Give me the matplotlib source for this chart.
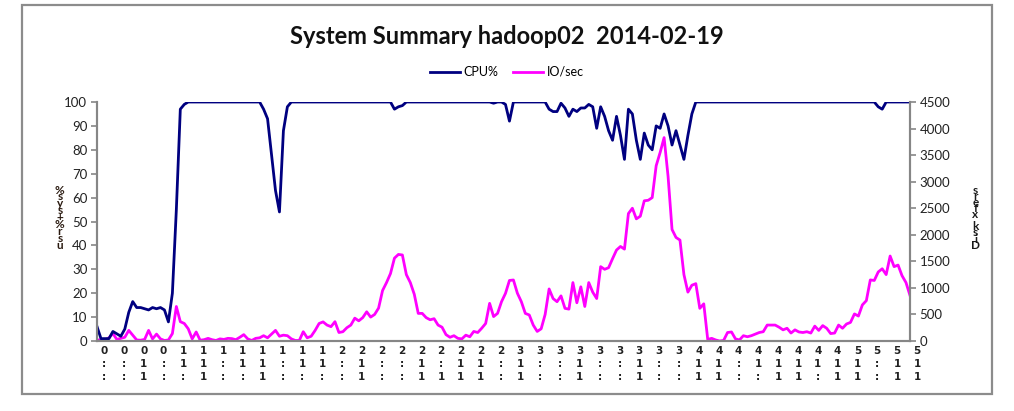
import matplotlib
matplotlib.use("Agg")
import matplotlib.pyplot as plt
import matplotlib.transforms as mtransforms
from matplotlib.patches import Rectangle

plt.rcParams['font.family'] = ['Lato', 'DejaVu Sans']

# CPU% (usr+sys), one value per sample
cpu = [6, 1, 1, 1, 4, 3, 2, 5, 12, 16.5,
       14, 14, 13.5, 13, 14, 13.5, 14, 13, 8, 20,
       55, 97, 99, 100, 100, 100, 100, 100, 100, 100,
       100, 100, 100, 100, 100, 100, 100, 100, 100, 100,
       100, 100, 97, 93, 78, 63, 54, 88, 98, 100,
       100, 100, 100, 100, 100, 100, 100, 100, 100, 100,
       100, 100, 100, 100, 100, 100, 100, 100, 100, 100,
       100, 100, 100, 100, 100, 97, 98, 98.5, 100, 100,
       100, 100, 100, 100, 100, 100, 100, 100, 100, 100,
       100, 100, 100, 100, 100, 100, 100, 100, 100, 100,
       99.5, 100, 100, 99, 92, 100, 100, 100, 100, 100,
       100, 100, 100, 100, 97, 96, 96, 99.5, 97.5, 94,
       97, 96, 97.5, 97.5, 99, 98, 89, 98, 94, 88,
       84, 94, 86, 76, 97, 95, 84, 76, 87, 82,
       80, 90, 89, 95, 90, 82, 88, 82, 76, 86,
       95, 100, 100, 100, 100, 100, 100, 100, 100, 100,
       100, 100, 100, 100, 100, 100, 100, 100, 100, 100,
       100, 100, 100, 100, 100, 100, 100, 100, 100, 100,
       100, 100, 100, 100, 100, 100, 100, 100, 100, 100,
       100, 100, 100, 100, 100, 100, 100, 98, 97, 100,
       100, 100, 100, 100, 100, 100]

# Disk transfers per second
io = [20, 20, 20, 60, 140, 30, 50, 70, 200, 110,
      20, 15, 30, 200, 40, 130, 40, 10, 20, 140,
      650, 364, 330, 230, 40, 170, 15, 25, 50, 25,
      10, 40, 30, 50, 45, 25, 70, 120, 40, 10,
      50, 60, 100, 60, 130, 200, 90, 110, 100, 40,
      10, 10, 175, 60, 90, 200, 330, 360, 300, 270,
      364, 160, 175, 250, 300, 430, 380, 440, 550, 450,
      500, 620, 950, 1100, 1270, 1560, 1630, 1620, 1250, 1100,
      880, 520, 520, 440, 400, 420, 300, 260, 120, 70,
      100, 50, 40, 110, 80, 180, 160, 240, 330, 709,
      460, 520, 740, 897, 1140, 1149, 900, 740, 520, 490,
      300, 180, 230, 500, 980, 800, 740, 850, 615, 600,
      1100, 720, 1020, 650, 1100, 920, 800, 1400, 1350, 1380,
      1550, 1713, 1780, 1730, 2400, 2500, 2300, 2350, 2640, 2650,
      2700, 3300, 3550, 3830, 3100, 2100, 1950, 1900, 1250, 920,
      1050, 1080, 615, 700, 30, 50, 20, 0, 10, 160,
      170, 40, 20, 100, 80, 100, 130, 160, 175, 300,
      300, 300, 260, 210, 240, 150, 210, 170, 160, 175,
      150, 280, 200, 290, 240, 140, 150, 300, 240, 320,
      350, 510, 470, 680, 760, 1150, 1140, 1300, 1360, 1250,
      1600, 1400, 1430, 1230, 1100, 860]

# category labels as they show (clipped, stacked), one every 5 samples
tick_labels = ["0\n:\n:", "0\n:\n:", "0\n1\n1", "0\n:\n:",
               "1\n1\n:", "1\n1\n1", "1\n:\n:", "1\n1\n:", "1\n1\n1", "1\n:\n:", "1\n1\n:", "1\n1\n:",
               "2\n:\n:", "2\n1\n1", "2\n:\n:", "2\n:\n:", "2\n1\n1", "2\n:\n1", "2\n1\n1", "2\n1\n1", "2\n:\n:",
               "3\n1\n1", "3\n:\n:", "3\n:\n:", "3\n1\n1", "3\n:\n:", "3\n:\n:", "3\n1\n1", "3\n:\n:", "3\n:\n:",
               "4\n1\n1", "4\n1\n1", "4\n:\n:", "4\n1\n:", "4\n1\n1", "4\n1\n1", "4\n1\n:", "4\n1\n1",
               "5\n1\n1", "5\n:\n:", "5\n1\n1", "5\n1\n1"]
label_step = 5

title = "System Summary hadoop02  2014-02-19"

axis_gray = '#868686'
text_color = '#222222'

fig = plt.figure(figsize=(10.14, 4.11), dpi=100, facecolor='white')
fig.patches.append(Rectangle((0.0217, 0.041), 0.957, 0.947, transform=fig.transFigure,
                             fill=False, edgecolor='#8c8c8c', linewidth=1.6))

ax = fig.add_axes([0.0957, 0.1703, 0.8017, 0.5815])
ax2 = ax.twinx()

x = list(range(len(cpu)))
l1, = ax.plot(x, cpu, color='#000080', linewidth=2.0, label='CPU%')
l2, = ax2.plot(x, io, color='#FF00FF', linewidth=2.0, label='IO/sec')
ax.set_zorder(ax2.get_zorder() + 1)
ax.patch.set_visible(False)

ax.set_xlim(0, len(cpu) - 1)
ax.set_ylim(0, 100)
ax2.set_ylim(0, 4500)
ax.set_yticks(range(0, 101, 10))
ax2.set_yticks(range(0, 4501, 500))
ax.set_xticks([])

for a in (ax, ax2):
    for pos, sp in a.spines.items():
        sp.set_color(axis_gray)
        sp.set_linewidth(1.5)
    a.spines['top'].set_visible(False)
    a.tick_params(axis='y', colors=axis_gray, labelcolor=text_color,
                  labelsize=9.5, length=4, width=1.2, pad=3)

# stacked category labels below the axis
trans = mtransforms.offset_copy(ax.get_xaxis_transform(), fig=fig, x=7, y=-5, units='dots')
for k, lab in enumerate(tick_labels):
    ax.text(k * label_step, 0, lab, transform=trans, ha='center', va='top',
            fontsize=7.5, fontweight='bold', color=text_color, linespacing=1.35,
            family=['Liberation Sans Narrow', 'DejaVu Sans'], clip_on=False)

# compressed axis titles
fig.text(0.059, 0.47, "\n".join(reversed("usr%+sys%")), ha='center', va='center',
         fontsize=8.5, fontweight='bold', color='#2a1a10', linespacing=0.55)
fig.text(0.962, 0.47, "\n".join(reversed("Disk xfers")), ha='center', va='center',
         fontsize=8.5, fontweight='bold', color='#1a1a1a', linespacing=0.45)

fig.text(0.5, 0.912, title, ha='center', va='center', fontsize=17,
         fontweight='bold', color='#111111')
fig.legend(handles=[l1, l2], loc='center', bbox_to_anchor=(0.5, 0.825), ncol=2,
           frameon=False, fontsize=9, handlelength=2.4, handletextpad=0.3,
           columnspacing=1.2)

fig.savefig('out.png', dpi=100, facecolor='white')
